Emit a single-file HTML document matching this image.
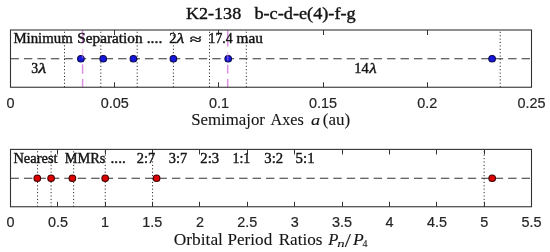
<!DOCTYPE html>
<html><head><meta charset="utf-8"><style>
html,body{margin:0;padding:0;background:#fff;}
body{width:550px;height:252px;overflow:hidden;}
svg{display:block;will-change:transform;}
</style></head><body>
<svg width="550" height="252" viewBox="0 0 550 252">
<rect width="550" height="252" fill="#fff"/>
<line x1="64.50" y1="87.25" x2="64.50" y2="30.0" stroke="#222" stroke-width="1" stroke-dasharray="1.1 2.3"/>
<line x1="100.80" y1="87.25" x2="100.80" y2="30.0" stroke="#222" stroke-width="1" stroke-dasharray="1.1 2.3"/>
<line x1="137.20" y1="87.25" x2="137.20" y2="30.0" stroke="#222" stroke-width="1" stroke-dasharray="1.1 2.3"/>
<line x1="173.40" y1="87.25" x2="173.40" y2="30.0" stroke="#222" stroke-width="1" stroke-dasharray="1.1 2.3"/>
<line x1="209.50" y1="87.25" x2="209.50" y2="30.0" stroke="#222" stroke-width="1" stroke-dasharray="1.1 2.3"/>
<line x1="246.30" y1="87.25" x2="246.30" y2="30.0" stroke="#222" stroke-width="1" stroke-dasharray="1.1 2.3"/>
<line x1="500.20" y1="87.25" x2="500.20" y2="30.0" stroke="#222" stroke-width="1" stroke-dasharray="1.1 2.3"/>
<line x1="10.5" y1="58.75" x2="531.5" y2="58.75" stroke="#333" stroke-width="1.15" stroke-dasharray="8.4 5.05"/>
<line x1="82.6" y1="30.0" x2="82.6" y2="43.5" stroke="#dc8fe4" stroke-width="1.5"/>
<line x1="82.6" y1="64.3" x2="82.6" y2="73.8" stroke="#dc8fe4" stroke-width="1.5"/>
<line x1="82.6" y1="78.9" x2="82.6" y2="87.25" stroke="#dc8fe4" stroke-width="1.5"/>
<line x1="227.7" y1="30.0" x2="227.7" y2="46.5" stroke="#dc8fe4" stroke-width="1.5"/>
<line x1="227.7" y1="64.8" x2="227.7" y2="73.6" stroke="#dc8fe4" stroke-width="1.5"/>
<line x1="227.7" y1="79.0" x2="227.7" y2="87.25" stroke="#dc8fe4" stroke-width="1.5"/>
<circle cx="80.9" cy="58.75" r="3.3" fill="#1616dc" stroke="#0a0a55" stroke-width="1.1"/>
<circle cx="103.2" cy="58.75" r="3.3" fill="#1616dc" stroke="#0a0a55" stroke-width="1.1"/>
<circle cx="133.4" cy="58.75" r="3.3" fill="#1616dc" stroke="#0a0a55" stroke-width="1.1"/>
<circle cx="173.4" cy="58.75" r="3.3" fill="#1616dc" stroke="#0a0a55" stroke-width="1.1"/>
<circle cx="228.2" cy="58.75" r="3.3" fill="#1616dc" stroke="#0a0a55" stroke-width="1.1"/>
<circle cx="492.1" cy="58.75" r="3.3" fill="#1616dc" stroke="#0a0a55" stroke-width="1.1"/>
<line x1="82.6" y1="48.8" x2="82.6" y2="58.3" stroke="#dc8fe4" stroke-width="1.5" opacity="0.45"/>
<line x1="227.7" y1="51.8" x2="227.7" y2="60.5" stroke="#dc8fe4" stroke-width="1.5" opacity="0.45"/>
<line x1="114.50" y1="30.0" x2="114.50" y2="35.0" stroke="#333" stroke-width="1"/>
<line x1="114.50" y1="87.25" x2="114.50" y2="82.25" stroke="#333" stroke-width="1"/>
<line x1="218.50" y1="30.0" x2="218.50" y2="35.0" stroke="#333" stroke-width="1"/>
<line x1="218.50" y1="87.25" x2="218.50" y2="82.25" stroke="#333" stroke-width="1"/>
<line x1="323.50" y1="30.0" x2="323.50" y2="35.0" stroke="#333" stroke-width="1"/>
<line x1="323.50" y1="87.25" x2="323.50" y2="82.25" stroke="#333" stroke-width="1"/>
<line x1="427.50" y1="30.0" x2="427.50" y2="35.0" stroke="#333" stroke-width="1"/>
<line x1="427.50" y1="87.25" x2="427.50" y2="82.25" stroke="#333" stroke-width="1"/>
<rect x="10.5" y="30.0" width="521.0" height="57.25" fill="none" stroke="#333" stroke-width="1.1"/>
<text x="13.42" y="43.4" font-family="'Liberation Serif', serif" font-size="14.3" fill="#141414" stroke="#141414" stroke-width="0.4" textLength="59.31" lengthAdjust="spacingAndGlyphs">Minimum</text>
<text x="77.28" y="43.4" font-family="'Liberation Serif', serif" font-size="14.3" fill="#141414" stroke="#141414" stroke-width="0.4" textLength="65.26" lengthAdjust="spacingAndGlyphs">Separation</text>
<text x="146.66" y="43.4" font-family="'Liberation Serif', serif" font-size="14.3" fill="#141414" stroke="#141414" stroke-width="0.4" textLength="15.78" lengthAdjust="spacingAndGlyphs">....</text>
<text x="169.25" y="43.4" font-family="'Liberation Serif', serif" font-size="14.3" fill="#141414" stroke="#141414" stroke-width="0.4" textLength="7.36" lengthAdjust="spacingAndGlyphs">2</text>
<text x="176.53" y="43.4" font-family="'Liberation Serif', serif" font-size="14.3" font-style="italic" fill="#141414" stroke="#141414" stroke-width="0.4" textLength="7.82" lengthAdjust="spacingAndGlyphs">λ</text>
<text x="189.89" y="44.3" font-family="'Liberation Serif', serif" font-size="14.3" fill="#141414" stroke="#141414" stroke-width="0.4" textLength="11.91" lengthAdjust="spacingAndGlyphs">≈</text>
<text x="208.59" y="43.4" font-family="'Liberation Serif', serif" font-size="14.3" fill="#141414" stroke="#141414" stroke-width="0.4" textLength="24.13" lengthAdjust="spacingAndGlyphs">17.4</text>
<text x="236.48" y="43.4" font-family="'Liberation Serif', serif" font-size="14.3" fill="#141414" stroke="#141414" stroke-width="0.4" textLength="26.38" lengthAdjust="spacingAndGlyphs">mau</text>
<text x="31.14" y="72.6" font-family="'Liberation Serif', serif" font-size="14.3" fill="#141414" stroke="#141414" stroke-width="0.4" textLength="6.90" lengthAdjust="spacingAndGlyphs">3</text>
<text x="38.35" y="72.6" font-family="'Liberation Serif', serif" font-size="14.3" font-style="italic" fill="#141414" stroke="#141414" stroke-width="0.4" textLength="8.12" lengthAdjust="spacingAndGlyphs">λ</text>
<text x="354.33" y="72.7" font-family="'Liberation Serif', serif" font-size="14.3" fill="#141414" stroke="#141414" stroke-width="0.4" textLength="14.40" lengthAdjust="spacingAndGlyphs">14</text>
<text x="369.21" y="72.7" font-family="'Liberation Serif', serif" font-size="14.3" font-style="italic" fill="#141414" stroke="#141414" stroke-width="0.4" textLength="7.42" lengthAdjust="spacingAndGlyphs">λ</text>
<text x="6.50" y="107.7" font-family="'Liberation Sans', sans-serif" font-size="14.4" fill="#262626" stroke="#262626" stroke-width="0.2">0</text>
<text x="100.71" y="107.7" font-family="'Liberation Sans', sans-serif" font-size="14.4" fill="#262626" stroke="#262626" stroke-width="0.2">0.05</text>
<text x="208.96" y="107.7" font-family="'Liberation Sans', sans-serif" font-size="14.4" fill="#262626" stroke="#262626" stroke-width="0.2">0.1</text>
<text x="309.11" y="107.7" font-family="'Liberation Sans', sans-serif" font-size="14.4" fill="#262626" stroke="#262626" stroke-width="0.2">0.15</text>
<text x="417.37" y="107.7" font-family="'Liberation Sans', sans-serif" font-size="14.4" fill="#262626" stroke="#262626" stroke-width="0.2">0.2</text>
<text x="517.51" y="107.7" font-family="'Liberation Sans', sans-serif" font-size="14.4" fill="#262626" stroke="#262626" stroke-width="0.2">0.25</text>
<text x="191.17" y="125.3" font-family="'Liberation Serif', serif" font-size="17" fill="#141414" stroke="#141414" stroke-width="0.1" textLength="73.78" lengthAdjust="spacingAndGlyphs">Semimajor</text>
<text x="270.54" y="125.3" font-family="'Liberation Serif', serif" font-size="17" fill="#141414" stroke="#141414" stroke-width="0.1" textLength="33.25" lengthAdjust="spacingAndGlyphs">Axes</text>
<text x="311.05" y="125.3" font-family="'Liberation Serif', serif" font-size="14.8" font-style="italic" fill="#141414" stroke="#141414" stroke-width="0.1" textLength="9.14" lengthAdjust="spacingAndGlyphs">a</text>
<text x="322.85" y="125.3" font-family="'Liberation Serif', serif" font-size="17" fill="#141414" stroke="#141414" stroke-width="0.1" textLength="27.40" lengthAdjust="spacingAndGlyphs">(au)</text>
<line x1="37.56" y1="206.75" x2="37.56" y2="149.4" stroke="#222" stroke-width="1" stroke-dasharray="1.1 2.3"/>
<line x1="51.10" y1="206.75" x2="51.10" y2="149.4" stroke="#222" stroke-width="1" stroke-dasharray="1.1 2.3"/>
<line x1="73.65" y1="206.75" x2="73.65" y2="149.4" stroke="#222" stroke-width="1" stroke-dasharray="1.1 2.3"/>
<line x1="105.23" y1="206.75" x2="105.23" y2="149.4" stroke="#222" stroke-width="1" stroke-dasharray="1.1 2.3"/>
<line x1="152.59" y1="206.75" x2="152.59" y2="149.4" stroke="#222" stroke-width="1" stroke-dasharray="1.1 2.3"/>
<line x1="484.14" y1="206.75" x2="484.14" y2="149.4" stroke="#222" stroke-width="1" stroke-dasharray="1.1 2.3"/>
<line x1="10.5" y1="178.25" x2="531.5" y2="178.25" stroke="#333" stroke-width="1.15" stroke-dasharray="8.4 5.05"/>
<circle cx="37.3" cy="178.25" r="3.3" fill="#dd0000" stroke="#440000" stroke-width="1.1"/>
<circle cx="51.1" cy="178.25" r="3.3" fill="#dd0000" stroke="#440000" stroke-width="1.1"/>
<circle cx="72.4" cy="178.25" r="3.3" fill="#dd0000" stroke="#440000" stroke-width="1.1"/>
<circle cx="105.2" cy="178.25" r="3.3" fill="#dd0000" stroke="#440000" stroke-width="1.1"/>
<circle cx="156.6" cy="178.25" r="3.3" fill="#dd0000" stroke="#440000" stroke-width="1.1"/>
<circle cx="492.2" cy="178.25" r="3.3" fill="#dd0000" stroke="#440000" stroke-width="1.1"/>
<line x1="57.50" y1="149.4" x2="57.50" y2="154.4" stroke="#333" stroke-width="1"/>
<line x1="57.50" y1="206.75" x2="57.50" y2="201.75" stroke="#333" stroke-width="1"/>
<line x1="105.50" y1="149.4" x2="105.50" y2="154.4" stroke="#333" stroke-width="1"/>
<line x1="105.50" y1="206.75" x2="105.50" y2="201.75" stroke="#333" stroke-width="1"/>
<line x1="152.50" y1="149.4" x2="152.50" y2="154.4" stroke="#333" stroke-width="1"/>
<line x1="152.50" y1="206.75" x2="152.50" y2="201.75" stroke="#333" stroke-width="1"/>
<line x1="199.50" y1="149.4" x2="199.50" y2="154.4" stroke="#333" stroke-width="1"/>
<line x1="199.50" y1="206.75" x2="199.50" y2="201.75" stroke="#333" stroke-width="1"/>
<line x1="247.50" y1="149.4" x2="247.50" y2="154.4" stroke="#333" stroke-width="1"/>
<line x1="247.50" y1="206.75" x2="247.50" y2="201.75" stroke="#333" stroke-width="1"/>
<line x1="294.50" y1="149.4" x2="294.50" y2="154.4" stroke="#333" stroke-width="1"/>
<line x1="294.50" y1="206.75" x2="294.50" y2="201.75" stroke="#333" stroke-width="1"/>
<line x1="342.50" y1="149.4" x2="342.50" y2="154.4" stroke="#333" stroke-width="1"/>
<line x1="342.50" y1="206.75" x2="342.50" y2="201.75" stroke="#333" stroke-width="1"/>
<line x1="389.50" y1="149.4" x2="389.50" y2="154.4" stroke="#333" stroke-width="1"/>
<line x1="389.50" y1="206.75" x2="389.50" y2="201.75" stroke="#333" stroke-width="1"/>
<line x1="436.50" y1="149.4" x2="436.50" y2="154.4" stroke="#333" stroke-width="1"/>
<line x1="436.50" y1="206.75" x2="436.50" y2="201.75" stroke="#333" stroke-width="1"/>
<line x1="484.50" y1="149.4" x2="484.50" y2="154.4" stroke="#333" stroke-width="1"/>
<line x1="484.50" y1="206.75" x2="484.50" y2="201.75" stroke="#333" stroke-width="1"/>
<rect x="10.5" y="149.4" width="521.0" height="57.35" fill="none" stroke="#333" stroke-width="1.1"/>
<text x="13.43" y="162.6" font-family="'Liberation Serif', serif" font-size="14.3" fill="#141414" stroke="#141414" stroke-width="0.4" textLength="44.15" lengthAdjust="spacingAndGlyphs">Nearest</text>
<text x="64.68" y="162.6" font-family="'Liberation Serif', serif" font-size="14.3" fill="#141414" stroke="#141414" stroke-width="0.4" textLength="40.74" lengthAdjust="spacingAndGlyphs">MMRs</text>
<text x="110.49" y="162.6" font-family="'Liberation Serif', serif" font-size="14.3" fill="#141414" stroke="#141414" stroke-width="0.4" textLength="15.32" lengthAdjust="spacingAndGlyphs">....</text>
<text x="136.86" y="162.6" font-family="'Liberation Serif', serif" font-size="14.3" fill="#141414" stroke="#141414" stroke-width="0.4" textLength="18.45" lengthAdjust="spacingAndGlyphs">2:7</text>
<text x="168.81" y="162.6" font-family="'Liberation Serif', serif" font-size="14.3" fill="#141414" stroke="#141414" stroke-width="0.4" textLength="18.41" lengthAdjust="spacingAndGlyphs">3:7</text>
<text x="200.35" y="162.6" font-family="'Liberation Serif', serif" font-size="14.3" fill="#141414" stroke="#141414" stroke-width="0.4" textLength="18.82" lengthAdjust="spacingAndGlyphs">2:3</text>
<text x="232.47" y="162.6" font-family="'Liberation Serif', serif" font-size="14.3" fill="#141414" stroke="#141414" stroke-width="0.4" textLength="17.87" lengthAdjust="spacingAndGlyphs">1:1</text>
<text x="264.29" y="162.6" font-family="'Liberation Serif', serif" font-size="14.3" fill="#141414" stroke="#141414" stroke-width="0.4" textLength="18.81" lengthAdjust="spacingAndGlyphs">3:2</text>
<text x="295.64" y="162.6" font-family="'Liberation Serif', serif" font-size="14.3" fill="#141414" stroke="#141414" stroke-width="0.4" textLength="18.95" lengthAdjust="spacingAndGlyphs">5:1</text>
<text x="6.50" y="227.1" font-family="'Liberation Sans', sans-serif" font-size="14.4" fill="#262626" stroke="#262626" stroke-width="0.2">0</text>
<text x="47.88" y="227.1" font-family="'Liberation Sans', sans-serif" font-size="14.4" fill="#262626" stroke="#262626" stroke-width="0.2">0.5</text>
<text x="101.03" y="227.1" font-family="'Liberation Sans', sans-serif" font-size="14.4" fill="#262626" stroke="#262626" stroke-width="0.2">1</text>
<text x="142.34" y="227.1" font-family="'Liberation Sans', sans-serif" font-size="14.4" fill="#262626" stroke="#262626" stroke-width="0.2">1.5</text>
<text x="195.95" y="227.1" font-family="'Liberation Sans', sans-serif" font-size="14.4" fill="#262626" stroke="#262626" stroke-width="0.2">2</text>
<text x="237.25" y="227.1" font-family="'Liberation Sans', sans-serif" font-size="14.4" fill="#262626" stroke="#262626" stroke-width="0.2">2.5</text>
<text x="290.72" y="227.1" font-family="'Liberation Sans', sans-serif" font-size="14.4" fill="#262626" stroke="#262626" stroke-width="0.2">3</text>
<text x="332.07" y="227.1" font-family="'Liberation Sans', sans-serif" font-size="14.4" fill="#262626" stroke="#262626" stroke-width="0.2">3.5</text>
<text x="385.45" y="227.1" font-family="'Liberation Sans', sans-serif" font-size="14.4" fill="#262626" stroke="#262626" stroke-width="0.2">4</text>
<text x="426.90" y="227.1" font-family="'Liberation Sans', sans-serif" font-size="14.4" fill="#262626" stroke="#262626" stroke-width="0.2">4.5</text>
<text x="480.15" y="227.1" font-family="'Liberation Sans', sans-serif" font-size="14.4" fill="#262626" stroke="#262626" stroke-width="0.2">5</text>
<text x="521.51" y="227.1" font-family="'Liberation Sans', sans-serif" font-size="14.4" fill="#262626" stroke="#262626" stroke-width="0.2">5.5</text>
<text x="173.69" y="244.7" font-family="'Liberation Serif', serif" font-size="17" fill="#141414" stroke="#141414" stroke-width="0.1" textLength="49.25" lengthAdjust="spacingAndGlyphs">Orbital</text>
<text x="227.50" y="244.7" font-family="'Liberation Serif', serif" font-size="17" fill="#141414" stroke="#141414" stroke-width="0.1" textLength="44.70" lengthAdjust="spacingAndGlyphs">Period</text>
<text x="278.70" y="244.7" font-family="'Liberation Serif', serif" font-size="17" fill="#141414" stroke="#141414" stroke-width="0.1" textLength="43.81" lengthAdjust="spacingAndGlyphs">Ratios</text>
<text x="328.18" y="244.5" font-family="'Liberation Serif', serif" font-size="17" font-style="italic" fill="#141414" stroke="#141414" stroke-width="0.1" textLength="10.15" lengthAdjust="spacingAndGlyphs">P</text>
<text x="337.37" y="246.7" font-family="'Liberation Serif', serif" font-size="9.3" font-style="italic" fill="#141414" stroke="#141414" stroke-width="0.1" textLength="7.35" lengthAdjust="spacingAndGlyphs">n</text>
<text x="344.80" y="246.7" font-family="'Liberation Serif', serif" font-size="19.4" fill="#141414" stroke="#141414" stroke-width="0.1" textLength="6.20" lengthAdjust="spacingAndGlyphs">/</text>
<text x="352.99" y="244.5" font-family="'Liberation Serif', serif" font-size="17" font-style="italic" fill="#141414" stroke="#141414" stroke-width="0.1" textLength="10.77" lengthAdjust="spacingAndGlyphs">P</text>
<text x="362.60" y="247.0" font-family="'Liberation Serif', serif" font-size="9.6" fill="#141414" stroke="#141414" stroke-width="0.1" textLength="4.96" lengthAdjust="spacingAndGlyphs">4</text>
<text x="185.98" y="19.3" font-family="'Liberation Serif', serif" font-size="17" fill="#141414" stroke="#141414" stroke-width="0.4" textLength="55.21" lengthAdjust="spacingAndGlyphs">K2-138</text>
<text x="254.40" y="19.3" font-family="'Liberation Serif', serif" font-size="17" fill="#141414" stroke="#141414" stroke-width="0.4" textLength="101.34" lengthAdjust="spacingAndGlyphs">b-c-d-e(4)-f-g</text>
</svg>
</body></html>
